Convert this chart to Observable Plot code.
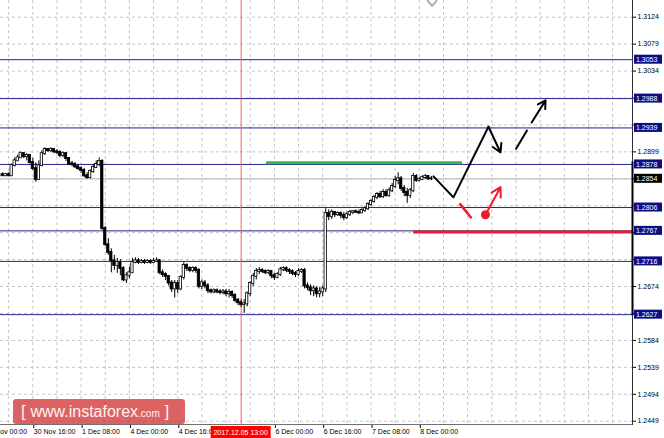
<!DOCTYPE html>
<html><head><meta charset="utf-8">
<script src="https://cdn.jsdelivr.net/npm/d3@7"></script>
<script src="https://cdn.jsdelivr.net/npm/@observablehq/plot@0.6"></script>
<style>
html,body{margin:0;padding:0;background:#fff;}
#wrap{position:relative;width:664px;height:438px;overflow:hidden;}
#logo{position:absolute;left:13px;top:399px;width:172px;height:25px;background:rgba(214,72,72,0.85);border-radius:3px;color:#fff3f3;font-family:"Liberation Sans",Arial,sans-serif;line-height:25px;white-space:pre;padding-left:8px;box-sizing:border-box;}
#logo .b{font-size:17px;font-weight:300;}
#logo .m{font-size:16px;}
#logo .s{font-size:10px;}
</style></head>
<body><div id="wrap"></div>
<script>
// ---- data (H1 candles, bar index 0 = 30 Nov 00:00) ----
const firstBar = 6;
const opens = [
1.2861,1.2859,1.2861,1.2859,1.2876,1.2884,1.2889,1.2896,1.2891,1.2893,
1.2881,1.2871,1.2853,1.2876,1.2896,1.2903,1.2901,1.2903,1.2899,1.2898,
1.2893,1.2896,1.2888,1.2879,1.2878,1.2874,1.2871,1.2868,1.2859,1.2856,
1.2866,1.2873,1.2878,1.2883,1.2771,1.2744,1.2731,1.2717,1.2709,1.2714,
1.2704,1.2685,1.2692,1.2697,1.2714,1.2717,1.2714,1.2716,1.2714,1.2716,
1.2714,1.2716,1.2717,1.2697,1.2694,1.2691,1.2680,1.2670,1.2679,1.2670,
1.2689,1.2709,1.2704,1.2701,1.2704,1.2701,1.2674,1.2680,1.2675,1.2667,
1.2665,1.2667,1.2665,1.2664,1.2665,1.2662,1.2664,1.2659,1.2651,1.2647,
1.2644,1.2645,1.2662,1.2679,1.2691,1.2699,1.2701,1.2699,1.2697,1.2699,
1.2692,1.2689,1.2694,1.2702,1.2704,1.2701,1.2699,1.2696,1.2694,1.2699,
1.2701,1.2675,1.2672,1.2667,1.2670,1.2662,1.2665,1.2670,1.2796,1.2791,
1.2798,1.2794,1.2796,1.2793,1.2789,1.2794,1.2798,1.2799,1.2798,1.2797,
1.2801,1.2804,1.2811,1.2816,1.2823,1.2828,1.2824,1.2831,1.2826,1.2834,
1.2841,1.2851,1.2854,1.2838,1.2831,1.2826,1.2834,1.2858,1.2851,1.2853,
1.2856,1.2858,1.2854];
const highs = [
1.2864,1.2863,1.2864,1.2879,1.2889,1.2894,1.2899,1.2898,1.2896,1.2894,
1.2888,1.2881,1.2884,1.2901,1.2906,1.2904,1.2906,1.2904,1.2903,1.2901,
1.2899,1.2898,1.2889,1.2883,1.2881,1.2878,1.2874,1.2871,1.2864,1.2869,
1.2878,1.2884,1.2889,1.2886,1.2774,1.2754,1.2737,1.2726,1.2721,1.2719,
1.2707,1.2697,1.2706,1.2721,1.2722,1.2721,1.2719,1.2719,1.2719,1.2719,
1.2721,1.2722,1.2719,1.2702,1.2697,1.2692,1.2684,1.2684,1.2684,1.2692,
1.2714,1.2712,1.2707,1.2707,1.2707,1.2704,1.2685,1.2684,1.2679,1.2670,
1.2670,1.2670,1.2669,1.2669,1.2669,1.2669,1.2667,1.2662,1.2654,1.2652,
1.2652,1.2665,1.2682,1.2696,1.2704,1.2706,1.2704,1.2702,1.2702,1.2701,
1.2696,1.2697,1.2706,1.2707,1.2707,1.2704,1.2702,1.2699,1.2704,1.2704,
1.2704,1.2680,1.2677,1.2675,1.2674,1.2672,1.2675,1.2804,1.2802,1.2802,
1.2799,1.2799,1.2799,1.2798,1.2798,1.2801,1.2801,1.2802,1.2802,1.2804,
1.2808,1.2814,1.2819,1.2826,1.2831,1.2833,1.2836,1.2836,1.2839,1.2846,
1.2858,1.2864,1.2858,1.2843,1.2838,1.2838,1.2863,1.2861,1.2856,1.2859,
1.2861,1.2859,1.2858];
const lows = [
1.2858,1.2858,1.2858,1.2858,1.2874,1.2883,1.2888,1.2888,1.2884,1.2879,
1.2868,1.2848,1.2851,1.2874,1.2893,1.2898,1.2898,1.2896,1.2894,1.2889,
1.2889,1.2883,1.2876,1.2874,1.2871,1.2868,1.2863,1.2856,1.2853,1.2854,
1.2863,1.2871,1.2874,1.2768,1.2741,1.2726,1.2697,1.2701,1.2696,1.2692,
1.2682,1.2679,1.2687,1.2696,1.2712,1.2711,1.2712,1.2711,1.2712,1.2711,
1.2712,1.2714,1.2694,1.2689,1.2684,1.2675,1.2664,1.2655,1.2662,1.2667,
1.2685,1.2699,1.2697,1.2697,1.2696,1.2670,1.2669,1.2670,1.2662,1.2662,
1.2662,1.2662,1.2660,1.2660,1.2657,1.2655,1.2654,1.2647,1.2642,1.2639,
1.2629,1.2640,1.2657,1.2674,1.2685,1.2694,1.2696,1.2694,1.2694,1.2687,
1.2684,1.2687,1.2691,1.2699,1.2697,1.2694,1.2692,1.2689,1.2691,1.2696,
1.2670,1.2667,1.2659,1.2657,1.2655,1.2655,1.2657,1.2664,1.2784,1.2786,
1.2789,1.2791,1.2787,1.2784,1.2786,1.2791,1.2794,1.2796,1.2794,1.2796,
1.2798,1.2801,1.2808,1.2813,1.2819,1.2821,1.2821,1.2823,1.2823,1.2831,
1.2838,1.2844,1.2833,1.2824,1.2813,1.2821,1.2831,1.2848,1.2849,1.2851,
1.2853,1.2851,1.2851];
const closes = [
1.2859,1.2861,1.2859,1.2876,1.2884,1.2889,1.2896,1.2891,1.2893,1.2881,
1.2871,1.2853,1.2876,1.2896,1.2903,1.2901,1.2903,1.2899,1.2898,1.2893,
1.2896,1.2888,1.2879,1.2878,1.2874,1.2871,1.2868,1.2859,1.2856,1.2866,
1.2873,1.2878,1.2883,1.2771,1.2744,1.2731,1.2717,1.2709,1.2714,1.2704,
1.2685,1.2692,1.2697,1.2714,1.2717,1.2714,1.2716,1.2714,1.2716,1.2714,
1.2716,1.2717,1.2697,1.2694,1.2691,1.2680,1.2670,1.2679,1.2670,1.2689,
1.2709,1.2704,1.2701,1.2704,1.2701,1.2674,1.2680,1.2675,1.2667,1.2665,
1.2667,1.2665,1.2664,1.2665,1.2662,1.2664,1.2659,1.2651,1.2647,1.2644,
1.2645,1.2662,1.2679,1.2691,1.2699,1.2701,1.2699,1.2697,1.2699,1.2692,
1.2689,1.2694,1.2702,1.2704,1.2701,1.2699,1.2696,1.2694,1.2699,1.2701,
1.2675,1.2672,1.2667,1.2670,1.2662,1.2665,1.2670,1.2796,1.2791,1.2798,
1.2794,1.2796,1.2793,1.2789,1.2794,1.2798,1.2799,1.2798,1.2797,1.2801,
1.2804,1.2811,1.2816,1.2823,1.2828,1.2824,1.2831,1.2826,1.2834,1.2841,
1.2851,1.2854,1.2838,1.2831,1.2826,1.2834,1.2858,1.2851,1.2853,1.2856,
1.2858,1.2854,1.2854];

const xTickIndex  = [0, 16, 32, 48, 64, 96, 112, 128, 144];
const xTickLabels = ["30 Nov 00:00","30 Nov 16:00","1 Dec 08:00","4 Dec 00:00","4 Dec 16:00","6 Dec 00:00","6 Dec 16:00","7 Dec 08:00","8 Dec 00:00"];
const yTicks = [1.2449,1.2494,1.2539,1.2584,1.2629,1.2674,1.2719,1.2764,1.2809,1.2854,1.2899,1.2944,1.2989,1.3034,1.3079,1.3124];
const levelPrices = [1.3053, 1.2988, 1.2939, 1.2878, 1.2806, 1.2767, 1.2716, 1.2627];
const currentPrice = 1.2854;
const markerIndex = 85, markerLabel = "2017.12.05 13:00";
const greenLevel = {p: 1.2881, i1: 93.4, i2: 158.3};
const redLevel   = {p: 1.2765, i1: 142.1, i2: 214.6};
const rangeBar   = {p1: 1.2882, p2: 1.2625};
const forecastPath  = [{i:148.7,p:1.2858},{i:155.3,p:1.2823},{i:166.9,p:1.2941}];
const forecastArrow = [{i1:166.9,p1:1.2941,i2:170.9,p2:1.2898}];
const dashSeg       = [{i1:175.9,p1:1.2903,i2:179.8,p2:1.2936}];
const dashArrow     = [{i1:181.2,p1:1.2948,i2:185.8,p2:1.2985}];
const redSegment    = [{i1:157.3,p1:1.2813,i2:161.3,p2:1.2788}];
const redDot        = [{i:165.9,p:1.2794}];
const redArrow      = [{i1:165.9,p1:1.2794,i2:170.9,p2:1.2840}];
const shiftMarkIndex = 148.4;

const bars = opens.map((o, k) => ({i: firstBar + k, open: o, high: highs[k], low: lows[k], close: closes[k]}));
const gridX = d3.range(0, 215, 8);
const labelOf = new Map(xTickIndex.map((d, k) => [d, xTickLabels[k]]));
const FONT = "'Liberation Sans', Arial, sans-serif";
// tick labels that sit under a price tag are hidden by it (as in the terminal)
const tagged = levelPrices.concat([currentPrice]);
const yTickFormat = d => tagged.some(v => Math.abs(v - d) < 0.0007) ? "" : d.toFixed(4);

const chart = Plot.plot({
  width: 664, height: 438,
  marginLeft: 0, marginRight: 32, marginTop: 0, marginBottom: 14,
  x: {domain: [5.3, 214.6], axis: null},
  y: {domain: [1.24435, 1.31519], axis: null},
  style: {fontFamily: FONT, fontSize: "7px", background: "#fff", overflow: "visible", color: "#000"},
  marks: [
    Plot.ruleX(gridX, {stroke: "#c4c4c4", strokeDasharray: "3,3"}),
    Plot.ruleY(yTicks, {stroke: "#c4c4c4", strokeDasharray: "3,3"}),
    Plot.ruleY([currentPrice], {stroke: "#c8c8c8", strokeWidth: 1.6}),
    Plot.ruleY(levelPrices, {stroke: "#23238f", strokeWidth: 1}),
    Plot.ruleX([markerIndex], {stroke: "#ff5c5c", strokeWidth: 1}),
    Plot.ruleY([greenLevel], {y: "p", x1: "i1", x2: "i2", stroke: "#3db54a", strokeWidth: 3}),
    Plot.ruleY([redLevel], {y: "p", x1: "i1", x2: "i2", stroke: "#ec1c2a", strokeWidth: 3}),
    Plot.ruleX(bars, {x: "i", y1: "low", y2: "high", stroke: "#000", strokeWidth: 1}),
    Plot.rect(bars, {x1: d => d.i - 0.38, x2: d => d.i + 0.38, y1: "open", y2: "close",
      fill: d => d.close > d.open ? "#fff" : "#000", stroke: "#000", strokeWidth: 0.8, insetTop: -0.5, insetBottom: -0.5}),
    Plot.line(forecastPath, {x: "i", y: "p", stroke: "#000", strokeWidth: 2}),
    Plot.arrow(forecastArrow, {x1: "i1", y1: "p1", x2: "i2", y2: "p2", stroke: "#000", strokeWidth: 2, headLength: 11}),
    Plot.link(dashSeg, {x1: "i1", y1: "p1", x2: "i2", y2: "p2", stroke: "#000", strokeWidth: 2}),
    Plot.arrow(dashArrow, {x1: "i1", y1: "p1", x2: "i2", y2: "p2", stroke: "#000", strokeWidth: 2, headLength: 11}),
    Plot.link(redSegment, {x1: "i1", y1: "p1", x2: "i2", y2: "p2", stroke: "#ec1c2a", strokeWidth: 2.5}),
    Plot.arrow(redArrow, {x1: "i1", y1: "p1", x2: "i2", y2: "p2", stroke: "#ec1c2a", strokeWidth: 2, headLength: 10}),
    Plot.dot(redDot, {x: "i", y: "p", r: 4.5, fill: "#ec1c2a"}),
    Plot.axisX({ticks: xTickIndex, tickFormat: d => labelOf.get(d), tickSize: 4, tickPadding: 1,
      textAnchor: "start", dx: 1, fontSize: 7, stroke: "#000"}),
    Plot.axisY({anchor: "right", ticks: yTicks, tickFormat: yTickFormat, tickSize: 3, tickPadding: 2, fontSize: 7}),
  ]
});

const xs = chart.scale("x"), ys = chart.scale("y");
const svg = d3.select(chart);
const right = xs.apply(214.6), bottom = ys.apply(1.24435);
// frame lines
svg.append("line").attr("x1", 0).attr("x2", right).attr("y1", bottom + 0.5).attr("y2", bottom + 0.5).attr("stroke", "#707070");
svg.append("line").attr("x1", right + 0.5).attr("x2", right + 0.5).attr("y1", 0).attr("y2", bottom + 1).attr("stroke", "#303030");
svg.append("line").attr("x1", right + 0.5).attr("x2", right + 0.5).attr("y1", ys.apply(rangeBar.p1)).attr("y2", ys.apply(rangeBar.p2)).attr("stroke", "#000").attr("stroke-width", 2);
// chart shift marker
const sx = xs.apply(shiftMarkIndex);
svg.append("path").attr("d", `M${sx-5},0 L${sx},6 L${sx+5},0`).attr("fill", "none").attr("stroke", "#b0b0b0").attr("stroke-width", 2);
// price labels
function priceTag(v, bg) {
  const y = ys.apply(v);
  const g = svg.append("g").attr("text-anchor", "start");
  g.append("rect").attr("x", right + 2).attr("y", y - 4.5).attr("width", 28).attr("height", 9).attr("fill", bg);
  g.append("text").attr("x", right + 4).attr("y", y + 2.6).attr("text-anchor", "start").attr("fill", "#fff").attr("font-size", 7).attr("font-family", FONT).text(v.toFixed(4));
}
levelPrices.forEach(v => priceTag(v, "#0d0d86"));
priceTag(currentPrice, "#000");
// time marker label
const mx = xs.apply(markerIndex);
svg.append("rect").attr("x", mx - 30).attr("y", bottom + 2).attr("width", 60).attr("height", 12).attr("fill", "#ff0000");
svg.append("text").attr("x", mx).attr("y", bottom + 10.5).attr("text-anchor", "middle").attr("fill", "#fff").attr("font-size", 7).attr("font-family", FONT).text(markerLabel);

const wrap = document.getElementById("wrap");
wrap.appendChild(chart);
const logo = document.createElement("div");
logo.id = "logo";
logo.innerHTML = '<span class="b">[ </span><span class="m">www.instaforex</span><span class="s">.com</span><span class="b"> ]</span>';
wrap.appendChild(logo);
</script>
</body></html>
